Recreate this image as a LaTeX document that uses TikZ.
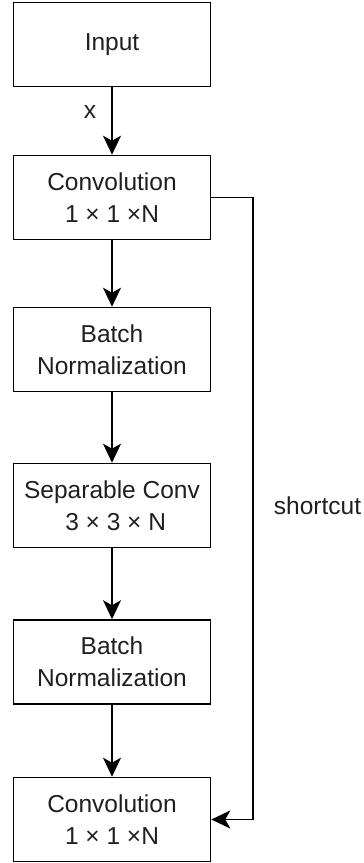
\documentclass[tikz,border=0pt]{standalone}
\usepackage{fontspec}
\setmainfont{Liberation Sans}
\usetikzlibrary{arrows.meta}
\begin{document}
\begin{tikzpicture}[x=1pt,y=-1pt,
  box/.style={draw=black, line width=1.6pt, minimum width=197pt, minimum height=84pt, align=center, inner sep=0pt, text=black!88, font=\fontsize{24.5}{32}\selectfont},
  conn/.style={line width=1.6pt, -{Stealth[length=19pt,width=18pt,inset=5pt]}},
  lbl/.style={text=black!88, font=\fontsize{24.5}{30}\selectfont, inner sep=0pt}]
\useasboundingbox (0,0) rectangle (364,863);
\node[box] (in) at (112,44.5) {Input};
\node[box] (c1) at (112,197.5) {Convolution\\1 × 1 ×N};
\node[box] (bn1) at (112,349.5) {Batch\\Normalization};
\node[box] (sep) at (112,505.5) {Separable Conv\\\hspace*{0.3em}3 × 3 × N};
\node[box] (bn2) at (112,662) {Batch\\Normalization};
\node[box] (c2) at (112,819.5) {Convolution\\1 × 1 ×N};
\draw[conn] (in) -- (c1);
\draw[conn] (c1) -- (bn1);
\draw[conn] (bn1) -- (sep);
\draw[conn] (sep) -- (bn2);
\draw[conn] (bn2) -- (c2);
\coordinate (sc) at (253,197.5);
\draw[conn] (c1.east) -- (sc) |- (c2.east);
\node[lbl] (xl) at (90,112) {x};
\node[lbl] (scl) at (317.5,506) {shortcut};
\end{tikzpicture}
\end{document}
